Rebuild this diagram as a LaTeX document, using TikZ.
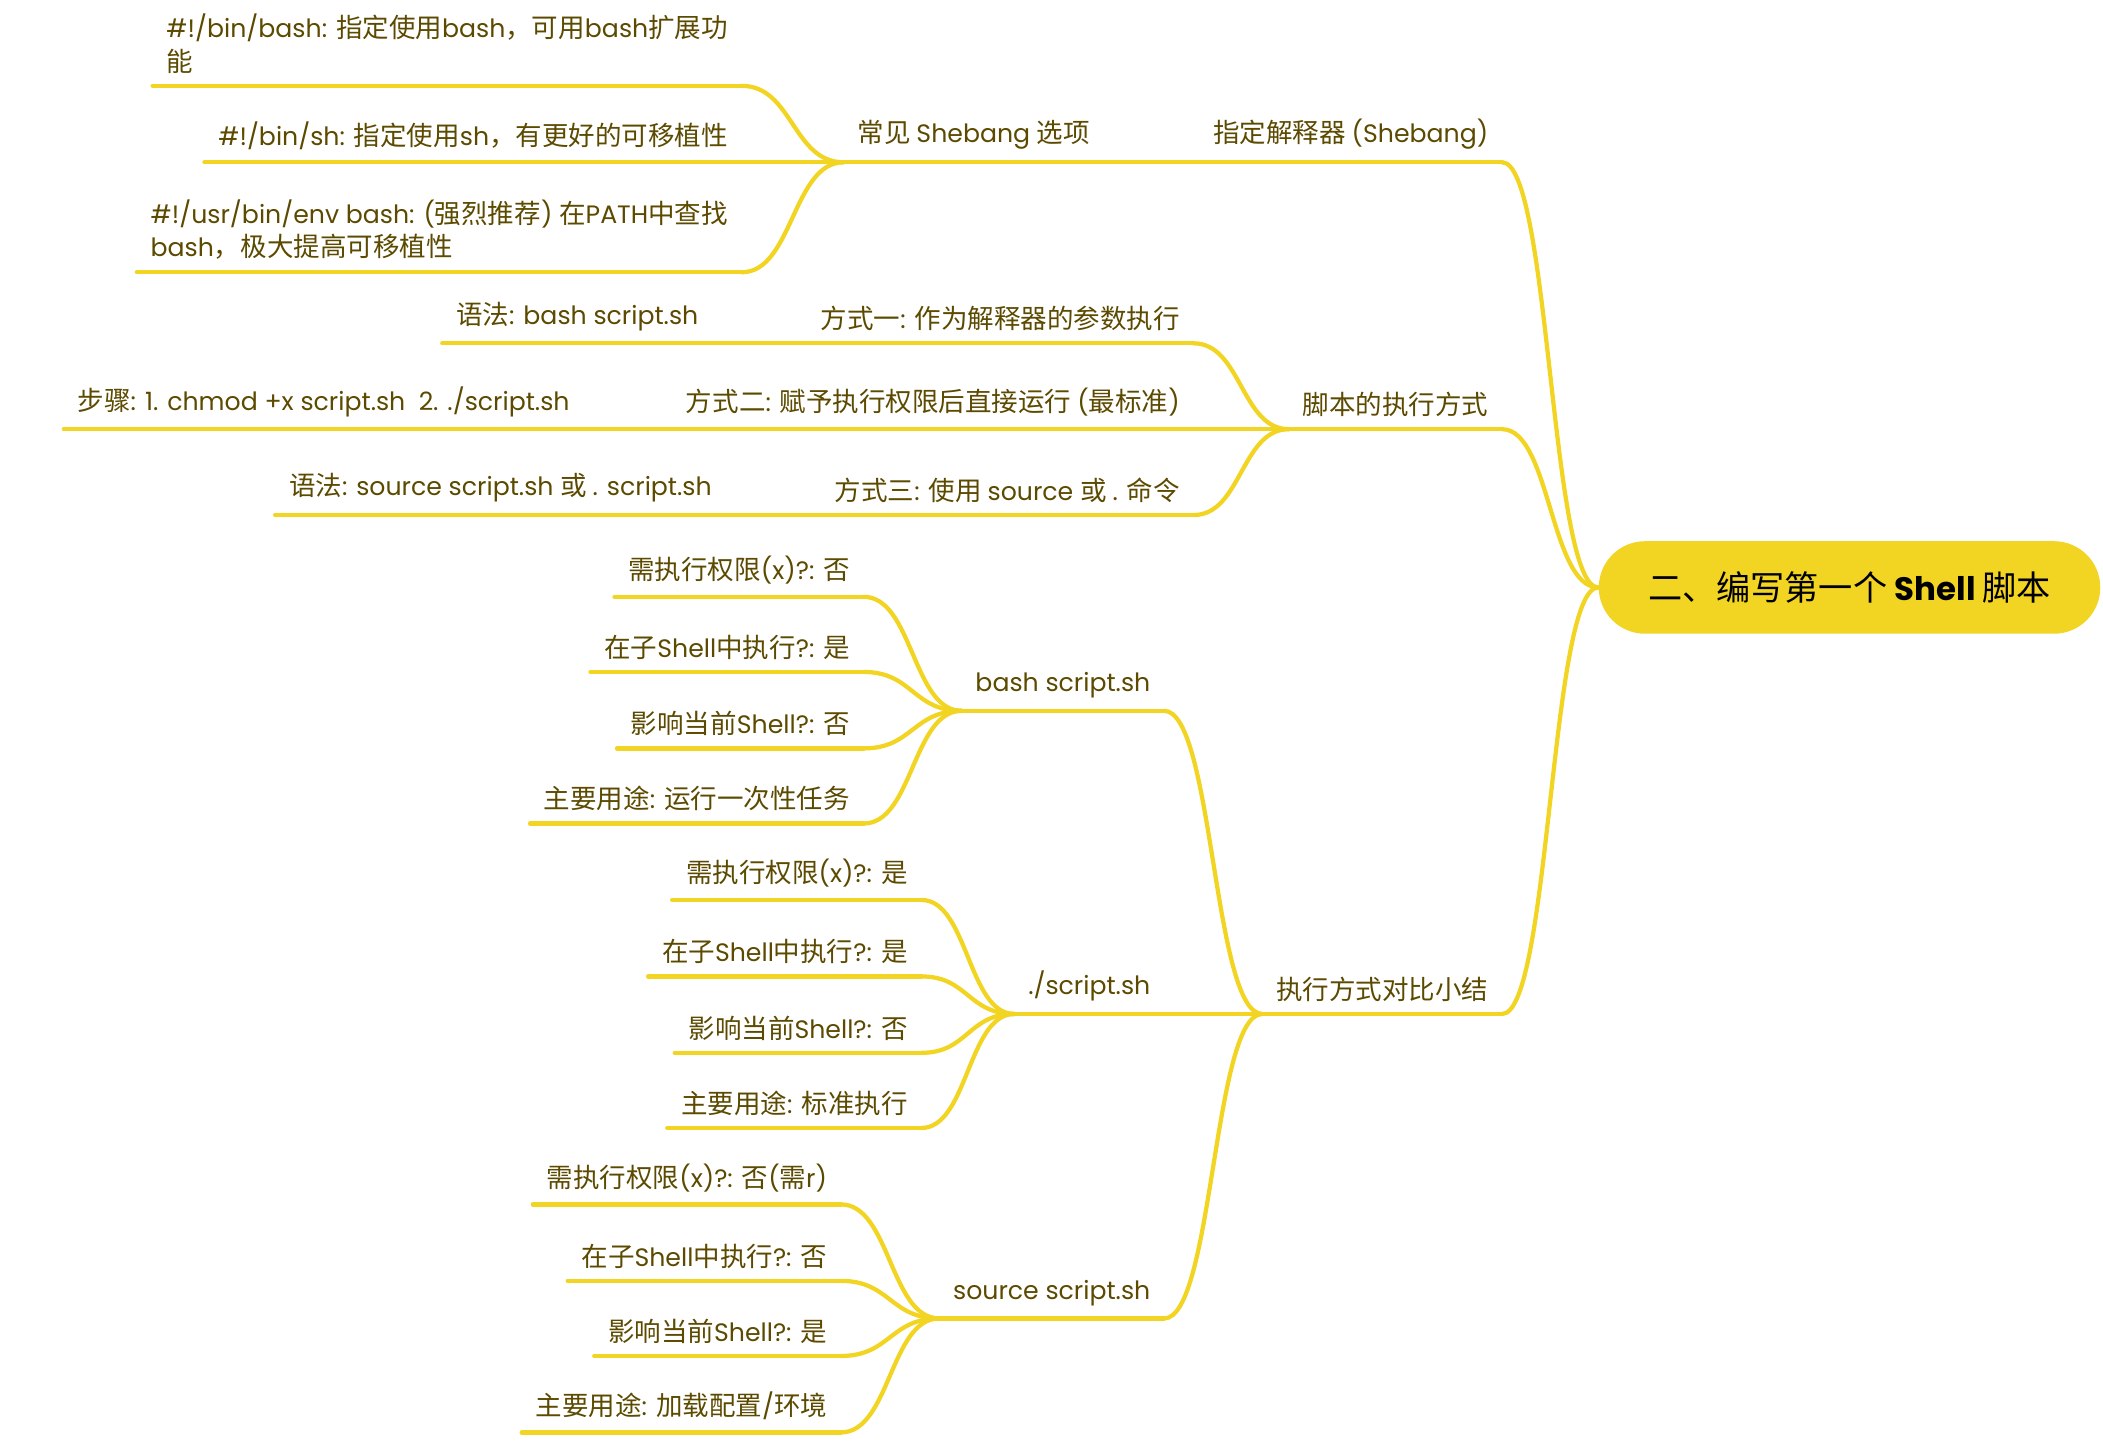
\documentclass[tikz,border=0pt]{standalone}
\usepackage{fontspec}
\usepackage{xcolor}
\usepackage{tikz}
\usetikzlibrary{calc,positioning}
\setmainfont[Scale=0.95]{Poppins}
\newfontfamily\latfont[Scale=0.95]{Poppins}
\newfontfamily\cjkfont[BoldFont={Noto Sans CJK SC}]{Noto Sans CJK SC}
% switch fonts between Latin and CJK runs
\XeTeXinterchartokenstate=1
\newXeTeXintercharclass\cjkclass
\newcount\cjkc
\cjkc="3000
\loop \XeTeXcharclass\cjkc=\cjkclass \ifnum\cjkc<"9FFF \advance\cjkc by 1 \repeat
\cjkc="FF00
\loop \XeTeXcharclass\cjkc=\cjkclass \ifnum\cjkc<"FFEF \advance\cjkc by 1 \repeat
\XeTeXinterchartoks 0 \cjkclass = {\cjkfont}
\XeTeXinterchartoks 4095 \cjkclass = {\cjkfont}
\XeTeXinterchartoks \cjkclass 0 = {\latfont}
\XeTeXinterchartoks 4095 0 = {\latfont}
\definecolor{ink}{HTML}{5C4A00}
\definecolor{branch}{HTML}{F2D422}

\begin{document}
\begin{tikzpicture}[x=0.02cm, y=-0.02cm,
        topic/.style={anchor=south east, inner xsep=0.2cm, inner ysep=0.18cm, text=ink, align=left,
                      font=\fontsize{11.25}{14.2}\selectfont},
        central/.style={fill=branch, rounded corners=0.69cm, minimum width=7.48cm, minimum height=1.38cm,
                        text=black, font=\fontsize{14.5}{17}\selectfont\bfseries},
        rule/.style={draw=branch, line width=1.8pt, line cap=round},
        link/.style={rule, to path={let \p1=(\tikztostart), \p2=(\tikztotarget) in
                     .. controls (0.5*\x1+0.5*\x2,\y1) and (0.5*\x1+0.5*\x2,\y2) .. (\tikztotarget)}}]
    \useasboundingbox (0,0) rectangle (1568,1076);
    \node[central] (root) at (1379,438) {二、编写第一个 Shell 脚本};
    % first level
    \node[topic] (interp)  at (1120,121) {指定解释器 (Shebang)};
    \node[topic] (exec)    at (1120,320) {脚本的执行方式};
    \node[topic] (summary) at (1120,756) {执行方式对比小结};
    % shebang
    \node[topic] (opts)   at (823,121) {常见 Shebang 选项};
    \node[topic] (shbash) at (553,64)  {\#!/bin/bash: 指定使用bash，可用bash扩展功\\能};
    \node[topic] (shsh)   at (553,121) {\#!/bin/sh: 指定使用sh，有更好的可移植性};
    \node[topic] (shenv)  at (553,203) {\#!/usr/bin/env bash: (强烈推荐) 在PATH中查找\\bash，极大提高可移植性};
    % ways to run
    \node[topic] (way1)  at (890,256) {方式一: 作为解释器的参数执行};
    \node[topic] (way2)  at (890,320) {方式二: 赋予执行权限后直接运行 (最标准)};
    \node[topic] (way3)  at (890,384) {方式三: 使用 source 或 . 命令};
    \node[topic] (syn1)  at (531,256) {语法: bash script.sh};
    \node[topic] (steps) at (435,320) {步骤: 1. chmod +x script.sh\ \ 2. ./script.sh};
    \node[topic] (syn3)  at (541,384) {语法: source script.sh 或 . script.sh};
    % comparison
    \node[topic] (cmpbash) at (868,530) {bash script.sh};
    \node[topic] (cmpdot)  at (868,756) {./script.sh};
    \node[topic] (cmpsrc)  at (868,983) {source script.sh};
    \node[topic] (b1) at (644,445) {需执行权限(x)?: 否};
    \node[topic] (b2) at (644,501) {在子Shell中执行?: 是};
    \node[topic] (b3) at (644,558) {影响当前Shell?: 否};
    \node[topic] (b4) at (644,614) {主要用途: 运行一次性任务};
    \node[topic] (d1) at (687,671) {需执行权限(x)?: 是};
    \node[topic] (d2) at (687,728) {在子Shell中执行?: 是};
    \node[topic] (d3) at (687,785) {影响当前Shell?: 否};
    \node[topic] (d4) at (687,841) {主要用途: 标准执行};
    \node[topic] (s1) at (627,898)  {需执行权限(x)?: 否(需r)};
    \node[topic] (s2) at (627,955)  {在子Shell中执行?: 否};
    \node[topic] (s3) at (627,1011) {影响当前Shell?: 是};
    \node[topic] (s4) at (627,1068) {主要用途: 加载配置/环境};

    \foreach \n in {interp,exec,summary,opts,shbash,shsh,shenv,way1,way2,way3,syn1,steps,syn3,
                    cmpbash,cmpdot,cmpsrc,b1,b2,b3,b4,d1,d2,d3,d4,s1,s2,s3,s4}
        \draw[rule] (\n.south west) -- (\n.south east);

    \path[link] (root.west)          edge (interp.south east)
                                     edge (exec.south east)
                                     edge (summary.south east)
                (interp.south west)  edge (opts.south east)
                (opts.south west)    edge (shbash.south east)
                                     edge (shsh.south east)
                                     edge (shenv.south east)
                (exec.south west)    edge (way1.south east)
                                     edge (way2.south east)
                                     edge (way3.south east)
                (way1.south west)    edge (syn1.south east)
                (way2.south west)    edge (steps.south east)
                (way3.south west)    edge (syn3.south east)
                (summary.south west) edge (cmpbash.south east)
                                     edge (cmpdot.south east)
                                     edge (cmpsrc.south east)
                (cmpbash.south west) edge (b1.south east) edge (b2.south east)
                                     edge (b3.south east) edge (b4.south east)
                (cmpdot.south west)  edge (d1.south east) edge (d2.south east)
                                     edge (d3.south east) edge (d4.south east)
                (cmpsrc.south west)  edge (s1.south east) edge (s2.south east)
                                     edge (s3.south east) edge (s4.south east);
\end{tikzpicture}
\end{document}
